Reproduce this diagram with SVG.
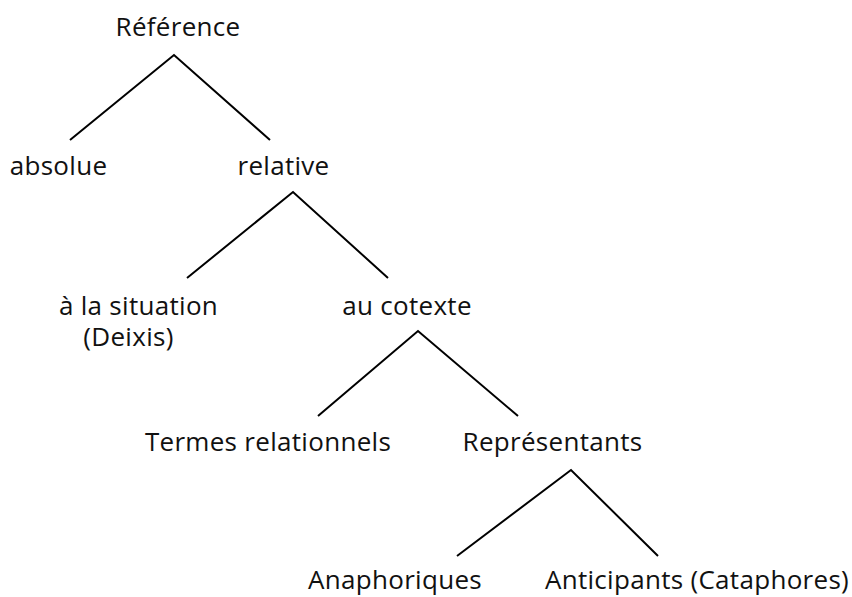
<svg xmlns="http://www.w3.org/2000/svg" width="852" height="597" viewBox="0 0 852 597">
<style>
text{font-family:"Open Sans",Lato,"Liberation Sans",sans-serif;font-size:26px;letter-spacing:0.3px;fill:#111;text-anchor:middle}
.e{stroke:#000;stroke-width:2;fill:none}
</style>
<rect width="852" height="597" fill="#fff"/>
<g id="connectors">
<polyline class="e" points="70,140 174,55 270,140"/>
<polyline class="e" points="187,278 293,192 388,278"/>
<polyline class="e" points="318,416 418,331 518,416"/>
<polyline class="e" points="457,556 571,470 658,556"/>
</g>
<g id="n-reference"><text x="178" y="36">Référence</text></g>
<g id="n-absolue"><text x="58.5" y="175">absolue</text></g>
<g id="n-relative"><text x="283.5" y="175">relative</text></g>
<g id="n-situation"><text x="138.5" y="315">à la situation</text><text x="128.5" y="346">(Deixis)</text></g>
<g id="n-cotexte"><text x="407" y="315">au cotexte</text></g>
<g id="n-termes"><text x="268" y="451">Termes relationnels</text></g>
<g id="n-representants"><text x="552.5" y="451">Représentants</text></g>
<g id="n-anaphoriques"><text x="395" y="589">Anaphoriques</text></g>
<g id="n-anticipants"><text x="697" y="589">Anticipants (Cataphores)</text></g>
</svg>
